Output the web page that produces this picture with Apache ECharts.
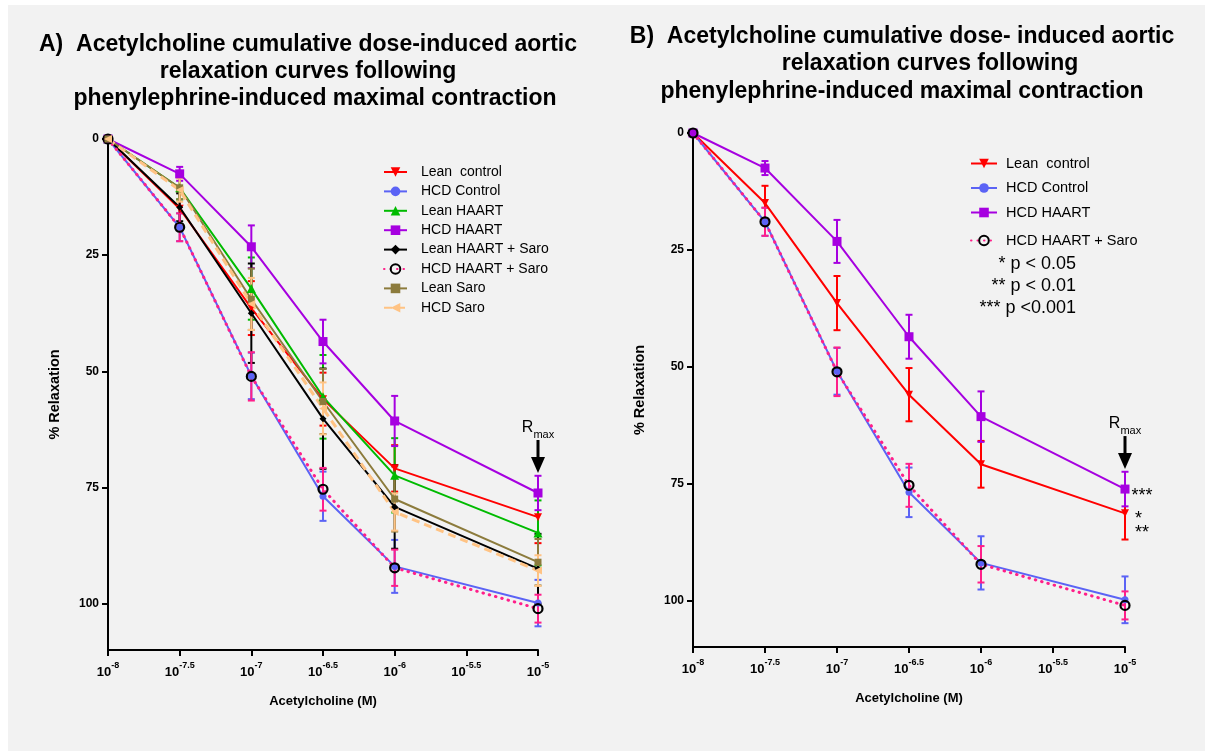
<!DOCTYPE html>
<html>
<head>
<meta charset="utf-8">
<script src="https://cdn.jsdelivr.net/npm/echarts@6/dist/echarts.min.js"></script>
<style>
  html, body { margin: 0; padding: 0; background: #f2f2f2; overflow: hidden; }
  #chart { width: 1205px; height: 751px; }
</style>
</head>
<body>
<div id="chart"></div>
<script>
// Acetylcholine doses, log10 molar
const doses = [-8, -7.5, -7, -6.5, -6, -5];
const xTicks = [-8, -7.5, -7, -6.5, -6, -5.5, -5];
const yTicks = [0, 25, 50, 75, 100];

// Mean % relaxation and SEM per group
const leanControl      = [0, 15.0, 36.4, 56.0, 70.9, 81.4];
const leanControlSem   = [0, 3.7, 5.8, 5.7, 5.0, 5.6];
const hcdControl       = [0, 19.0, 51.0, 76.9, 92.0, 99.9];
const hcdControlSem    = [0, 3.0, 5.0, 5.3, 5.7, 5.0];
const leanHaart        = [0, 10.5, 32.2, 55.5, 72.4, 84.8];
const leanHaartSem     = [0, 2.5, 6.7, 9.0, 8.0, 7.0];
const hcdHaart         = [0, 7.5, 23.2, 43.6, 60.7, 76.2];
const hcdHaartSem      = [0, 1.5, 4.6, 4.7, 5.4, 3.7];
const leanHaartSaro    = [0, 14.7, 37.5, 60.2, 79.2, 92.5];
const leanHaartSaroSem = [0, 3.0, 10.7, 10.8, 9.0, 7.5];
const hcdHaartSaro     = [0, 19.0, 51.1, 75.4, 92.3, 101.1];
const hcdHaartSaroSem  = [0, 3.0, 5.2, 4.6, 3.9, 3.0];
const leanSaro         = [0, 10.5, 34.5, 56.5, 77.5, 91.1];
const leanSaroSem      = [0, 2.5, 6.6, 7.0, 7.0, 5.0];
const hcdSaro          = [0, 11.0, 35.5, 58.0, 80.3, 92.9];
const hcdSaroSem       = [0, 2.5, 5.6, 5.6, 4.0, 3.3];

const FONT = '"Liberation Sans", Arial, Helvetica, sans-serif';

// Series styling per group
const groups = [
  { name: 'Lean  control',    mean: leanControl,   sem: leanControlSem,   color: '#ff0000', symbol: 'triangle', rotate: 180, size: 8, line: 'solid' },
  { name: 'HCD Control',      mean: hcdControl,    sem: hcdControlSem,    color: '#5b63f5', symbol: 'circle', size: 7, line: 'solid' },
  { name: 'Lean HAART',       mean: leanHaart,     sem: leanHaartSem,     color: '#00bb00', symbol: 'triangle', size: 9, line: 'solid' },
  { name: 'HCD HAART',        mean: hcdHaart,      sem: hcdHaartSem,      color: '#a600e0', symbol: 'rect', size: 9, line: 'solid' },
  { name: 'Lean HAART + Saro',mean: leanHaartSaro, sem: leanHaartSaroSem, color: '#000000', symbol: 'diamond', size: 7, line: 'solid' },
  { name: 'HCD HAART + Saro', mean: hcdHaartSaro,  sem: hcdHaartSaroSem,  color: '#ff1f8a', symbol: 'circle', size: 9, line: 'dot', ring: true },
  { name: 'Lean Saro',        mean: leanSaro,      sem: leanSaroSem,      color: '#8c7b3c', symbol: 'rect', size: 7, line: 'solid' },
  { name: 'HCD Saro',         mean: hcdSaro,       sem: hcdSaroSem,       color: '#ffc384', symbol: 'triangle', rotate: 90, size: 8, line: 'dash' }
];
const byName = {};
groups.forEach(g => { byName[g.name] = g; });

function errorRenderer(color) {
  return function (params, api) {
    const x = api.value(0), m = api.value(1), s = api.value(2);
    if (!s) return null;
    const top = api.coord([x, m - s]);
    const bot = api.coord([x, m + s]);
    const w = 3.5;
    const st = { stroke: color, lineWidth: 2 };
    return {
      type: 'group',
      children: [
        { type: 'line', shape: { x1: top[0], y1: top[1], x2: bot[0], y2: bot[1] }, style: st },
        { type: 'line', shape: { x1: top[0] - w, y1: top[1], x2: top[0] + w, y2: top[1] }, style: st },
        { type: 'line', shape: { x1: bot[0] - w, y1: bot[1], x2: bot[0] + w, y2: bot[1] }, style: st }
      ]
    };
  };
}

function makeSeries(g, axisIndex, lastLabel) {
  const errData = doses.map((d, i) => [d, g.mean[i], g.sem[i]]);
  const lineData = doses.map((d, i) => {
    const item = { value: [d, g.mean[i]] };
    if (lastLabel && i === doses.length - 1) item.label = lastLabel;
    return item;
  });
  let lineType = 'solid', cap = 'butt', width = 2;
  if (g.line === 'dot') { lineType = [0.5, 6]; cap = 'round'; width = 3; }
  if (g.line === 'dash') { lineType = [8, 5]; width = 3; }
  const err = {
    type: 'custom', name: g.name + ' err', xAxisIndex: axisIndex, yAxisIndex: axisIndex,
    data: errData, encode: { x: 0, y: 1 }, renderItem: errorRenderer(g.color),
    silent: true, z: 2
  };
  const line = {
    type: 'line', name: g.name, xAxisIndex: axisIndex, yAxisIndex: axisIndex,
    data: lineData, symbol: g.symbol, symbolSize: g.size, symbolRotate: g.rotate || 0,
    showAllSymbol: true, clip: false, z: 3,
    lineStyle: { color: g.color, width: width, type: lineType, cap: cap },
    itemStyle: g.ring
      ? { color: 'rgba(0,0,0,0)', borderColor: '#000', borderWidth: 2.2 }
      : { color: g.color },
    emphasis: { disabled: true },
    label: { show: false }
  };
  return [err, line];
}

function xLabel(v) {
  return '{b|10}{s|' + String(v) + '}';
}

function makeXAxis(gridIndex) {
  return {
    type: 'value', gridIndex: gridIndex, min: -8, max: -5, interval: 0.5,
    splitLine: { show: false },
    axisLine: { onZero: false, lineStyle: { color: '#000', width: 2 } },
    axisTick: { length: 6, lineStyle: { color: '#000', width: 2 }, customValues: xTicks },
    axisLabel: {
      customValues: xTicks, margin: 11, formatter: xLabel,
      rich: {
        b: { fontFamily: FONT, fontSize: 13, fontWeight: 'bold', color: '#000', lineHeight: 18, verticalAlign: 'bottom' },
        s: { fontFamily: FONT, fontSize: 9, fontWeight: 'bold', color: '#000', lineHeight: 18, verticalAlign: 'top' }
      }
    },
    name: 'Acetylcholine (M)', nameLocation: 'middle', nameGap: 45,
    nameTextStyle: { fontFamily: FONT, fontSize: 13, fontWeight: 'bold', color: '#000' }
  };
}

function makeYAxis(gridIndex) {
  return {
    type: 'value', gridIndex: gridIndex, min: 0, max: 110, interval: 25, inverse: true,
    splitLine: { show: false },
    axisLine: { show: true, onZero: false, lineStyle: { color: '#000', width: 2 } },
    axisTick: { show: true, length: 6, lineStyle: { color: '#000', width: 2 }, customValues: yTicks },
    axisLabel: {
      customValues: yTicks, margin: 9,
      fontFamily: FONT, fontSize: 12, fontWeight: 'bold', color: '#000'
    },
    name: '% Relaxation', nameLocation: 'middle', nameGap: 46, nameRotate: 90,
    nameTextStyle: { fontFamily: FONT, fontSize: 14.5, fontWeight: 'bold', color: '#000' }
  };
}

// Panel A: all eight groups
let series = [];
groups.forEach(g => { series = series.concat(makeSeries(g, 0)); });

// Panel B: four groups with significance marks at the highest dose
const starStyle = { show: true, fontFamily: FONT, fontSize: 18, color: '#000' };
series = series.concat(makeSeries(byName['Lean  control'], 1, Object.assign({}, starStyle, {
  position: 'right', formatter: '*\n**', lineHeight: 14, offset: [1, 13], align: 'left'
})));
series = series.concat(makeSeries(byName['HCD Control'], 1));
series = series.concat(makeSeries(byName['HCD HAART'], 1, Object.assign({}, starStyle, {
  position: 'right', formatter: '***', offset: [-3, 7]
})));
series = series.concat(makeSeries(byName['HCD HAART + Saro'], 1));

const legendText = { fontFamily: FONT, color: '#000' };

const chart = echarts.init(document.getElementById('chart'), null, { renderer: 'canvas' });
chart.setOption({
  backgroundColor: '#f2f2f2',
  animation: false,
  grid: [
    { left: 108, top: 139, width: 430, height: 511 },
    { left: 693, top: 133, width: 432, height: 514 }
  ],
  xAxis: [makeXAxis(0), makeXAxis(1)],
  yAxis: [makeYAxis(0), makeYAxis(1)],
  legend: [
    {
      data: groups.map(g => g.name), orient: 'vertical', left: 383, top: 165, padding: 0,
      itemWidth: 23, itemHeight: 12, itemGap: 5.4, selectedMode: false,
      textStyle: Object.assign({ fontSize: 14, padding: [0, 0, 0, 9] }, legendText)
    },
    {
      data: ['Lean  control', 'HCD Control', 'HCD HAART'], orient: 'vertical', left: 970, top: 156, padding: 0,
      itemWidth: 26, itemHeight: 12, itemGap: 9.5, selectedMode: false,
      textStyle: Object.assign({ fontSize: 14.5, padding: [0, 0, 0, 4] }, legendText)
    },
    {
      data: ['HCD HAART + Saro'], orient: 'vertical', left: 970, top: 233, padding: 0,
      itemWidth: 26, itemHeight: 12, selectedMode: false,
      textStyle: Object.assign({ fontSize: 14.5, padding: [0, 0, 0, 4] }, legendText)
    }
  ],
  series: series
});

// Titles, p-value key, R_max arrows
function titleLine(text, cx, y) {
  return {
    type: 'text', x: cx, y: y,
    style: { text: text, fontFamily: FONT, fontSize: 23, fontWeight: 'bold', fill: '#000', align: 'center', verticalAlign: 'middle' }
  };
}
function keyLine(text, x, y) {
  return {
    type: 'text', x: x, y: y,
    style: { text: text, fontFamily: FONT, fontSize: 18, fill: '#000', align: 'right', verticalAlign: 'middle' }
  };
}
function rmax(axisIndex, value) {
  const p = chart.convertToPixel({ xAxisIndex: axisIndex, yAxisIndex: axisIndex }, [-5, value]);
  const x = p[0], tip = p[1] - 20;
  return [
    {
      type: 'text', x: x, y: tip - 43,
      style: {
        text: '{r|R}{m|max}', align: 'center', verticalAlign: 'middle',
        rich: {
          r: { fontFamily: FONT, fontSize: 16, fill: '#000', lineHeight: 20, verticalAlign: 'top' },
          m: { fontFamily: FONT, fontSize: 11, fill: '#000', lineHeight: 20, verticalAlign: 'bottom' }
        }
      }
    },
    { type: 'line', shape: { x1: x, y1: tip - 33, x2: x, y2: tip - 12 }, style: { stroke: '#000', lineWidth: 3 } },
    { type: 'polygon', shape: { points: [[x - 7, tip - 16], [x + 7, tip - 16], [x, tip]] }, style: { fill: '#000' } }
  ];
}

chart.setOption({
  graphic: [
    { type: 'rect', shape: { x: 0, y: 0, width: 1205, height: 5 }, style: { fill: '#fff' } },
    { type: 'rect', shape: { x: 0, y: 0, width: 8, height: 751 }, style: { fill: '#fff' } },
    titleLine('A)  Acetylcholine cumulative dose-induced aortic', 308, 45),
    titleLine('relaxation curves following', 308, 72),
    titleLine('phenylephrine-induced maximal contraction', 315, 99),
    titleLine('B)  Acetylcholine cumulative dose- induced aortic', 902, 37),
    titleLine('relaxation curves following', 930, 64),
    titleLine('phenylephrine-induced maximal contraction', 902, 92),
    keyLine('* p < 0.05', 1076, 264),
    keyLine('** p < 0.01', 1076, 286),
    keyLine('*** p <0.001', 1076, 308)
  ].concat(rmax(0, hcdHaart[5])).concat(rmax(1, hcdHaart[5]))
});
</script>
</body>
</html>
